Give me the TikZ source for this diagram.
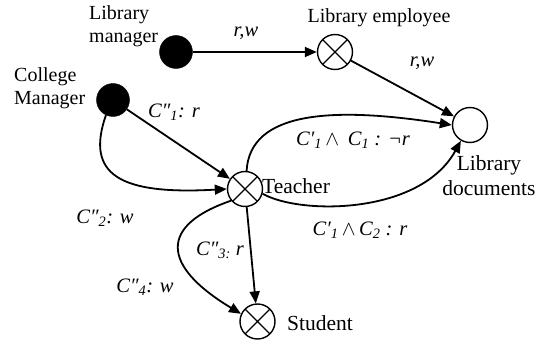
\documentclass[tikz,border=0pt]{standalone}
\usepackage{fontspec}
\setmainfont{Liberation Serif}
\usetikzlibrary{arrows.meta}
\begin{document}
\begin{tikzpicture}[x=1pt,y=-1pt,
 txt/.style={font=\fontsize{20}{23}\selectfont,inner sep=0pt},
 bigtxt/.style={font=\fontsize{21.5}{25}\selectfont,inner sep=0pt},
 lab/.style={font=\fontsize{20.5}{23}\selectfont\itshape,inner sep=0pt},
 blackdot/.style={circle,fill=black,draw=black,minimum size=33pt,inner sep=0pt},
 xcirc/.style={circle,draw,line width=1.4pt,minimum size=35pt,inner sep=0pt,
   path picture={\draw[line width=1.4pt] (path picture bounding box.north west)--(path picture bounding box.south east)
   (path picture bounding box.north east)--(path picture bounding box.south west);}},
 ocirc/.style={circle,draw,line width=1.4pt,minimum size=35pt,inner sep=0pt},
 arr/.style={-{Triangle[length=12pt,width=10pt]},line width=1.8pt}
]
\useasboundingbox (0,0) rectangle (547,345);
\node[blackdot] (lm) at (176,52) {};
\node[xcirc] (le) at (335,52) {};
\node[blackdot] (cm) at (113,100) {};
\node[ocirc] (ld) at (470,125) {};
\node[xcirc] (t) at (245,189) {};
\node[xcirc] (s) at (257.5,321.5) {};

\node[txt,align=left,anchor=west] (lmt) at (89,26) {Library\\manager};
\node[txt] (let) at (379,18) {Library employee};
\node[txt,align=left,anchor=west] (cmt) at (14,88) {College\\Manager};
\node[bigtxt,anchor=west] (tt) at (262,186) {Teacher};
\node[bigtxt,align=center] (ldt) at (489,176) {Library\\documents};
\node[bigtxt,anchor=west] (st) at (287,323) {Student};

\draw[arr] (lm) -- (le);
\draw[arr] (le) -- (ld);
\draw[arr] (cm) -- (t);
\draw[arr] (cm.245) .. controls (85,175) and (120,195) .. (t.west);
\draw[arr] (t.85) .. controls (250,112) and (330,106) .. (ld.west);
\draw[arr] (t.-15) .. controls (300,215) and (420,215) .. (ld.-120);
\draw[arr] (t) -- (s);
\draw[arr] (t.220) .. controls (160,225) and (160,265) .. (s.155);

\node[lab] (l1) at (246,33) {r,w};
\node[lab] (l2) at (422,63) {r,w};
\node[lab] (l3) at (174,112) {C″\textsubscript{1}: r};
\node[lab] (l4) at (353,140) {C′\textsubscript{1}$\,\wedge\,$ C\textsubscript{1} : ¬r};
\node[lab] (l5) at (105,218) {C″\textsubscript{2}: w};
\node[lab] (l6) at (220,250) {C″\textsubscript{3:} r};
\node[lab] (l7) at (145,287) {C″\textsubscript{4}: w};
\node[lab] (l8) at (360,230) {C′\textsubscript{1}$\,\wedge\,$C\textsubscript{2} : r};
\end{tikzpicture}
\end{document}
